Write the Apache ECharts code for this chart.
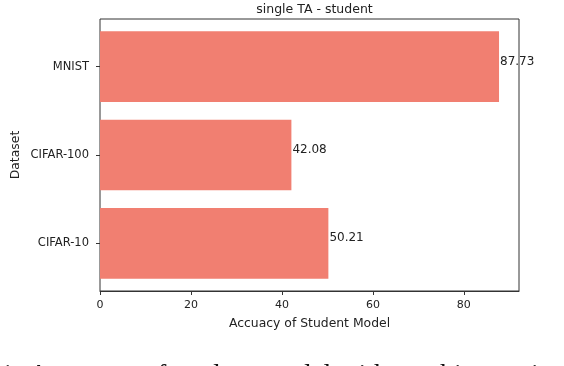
<!DOCTYPE html>
<html><head><meta charset="utf-8">
<script src="https://cdn.jsdelivr.net/npm/echarts@6/dist/echarts.min.js"></script>
<style>html,body{margin:0;padding:0;background:#fff}#c{width:564px;height:366px}</style>
</head><body><div id="c"></div>
<script>
var categories = ['CIFAR-10', 'CIFAR-100', 'MNIST'];
var accuracy = [50.21, 42.08, 87.73];
var xTicks = [0, 20, 40, 60, 80];
var titleText = 'single TA - student';
var xLabel = 'Accuacy of Student Model';
var yLabel = 'Dataset';
var captionText = '1: Accuracy of student model with teaching assistant';

var chart = echarts.init(document.getElementById('c'), null, {renderer: 'canvas'});
var F = 'DejaVu Sans';
var XMAX = 92.12;
chart.setOption({
  animation: false,
  title: {text: titleText, left: 309.5, textAlign: 'center', top: -2,
    textStyle: {fontFamily: F, fontSize: 12.5, fontWeight: 'normal', color: '#222'}},
  grid: [
    {left: 100, top: 19, width: 419, height: 272, show: true, borderColor: '#333', borderWidth: 1, backgroundColor: 'transparent'},
    {left: 100, top: 22.5, width: 419, height: 265}
  ],
  xAxis: [
    {gridIndex: 0, type: 'value', min: 0, max: XMAX, interval: 20,
      name: xLabel, nameLocation: 'middle', nameGap: 27,
      nameTextStyle: {fontFamily: F, fontSize: 12.4, color: '#222'},
      axisLine: {show: true, onZero: false, lineStyle: {color: '#333'}},
      axisTick: {show: true, length: 4, lineStyle: {color: '#333'}},
      axisLabel: {fontFamily: F, fontSize: 11, color: '#222', margin: 9, showMaxLabel: false,
        formatter: function(v){ return xTicks.indexOf(v) >= 0 ? String(v) : ''; }},
      splitLine: {show: false}},
    {gridIndex: 1, type: 'value', min: 0, max: XMAX, show: false}
  ],
  yAxis: [
    {gridIndex: 0, type: 'value', min: 0, max: 1, show: true,
      name: yLabel, nameLocation: 'middle', nameGap: 78, nameRotate: 90,
      nameTextStyle: {fontFamily: F, fontSize: 12.4, color: '#222'},
      axisLine: {show: false}, axisTick: {show: false}, axisLabel: {show: false}, splitLine: {show: false}},
    {gridIndex: 1, type: 'category', data: categories,
      axisLine: {show: false},
      axisTick: {show: true, alignWithLabel: true, length: 4, lineStyle: {color: '#333'}},
      axisLabel: {fontFamily: F, fontSize: 11.5, color: '#222', margin: 11},
      splitLine: {show: false}}
  ],
  series: [{type: 'bar', xAxisIndex: 1, yAxisIndex: 1, data: accuracy, barWidth: '80%',
    itemStyle: {color: '#F17F71'},
    label: {show: true, position: 'right', distance: 1, offset: [0, -5], fontFamily: F, fontSize: 12, color: '#222',
      formatter: function(p){ return p.value.toFixed(2); }}}],
  graphic: [{type: 'text', left: 0, top: 362,
    style: {text: captionText, font: '28px "Liberation Serif"', fill: '#111'}}]
});
</script></body></html>
